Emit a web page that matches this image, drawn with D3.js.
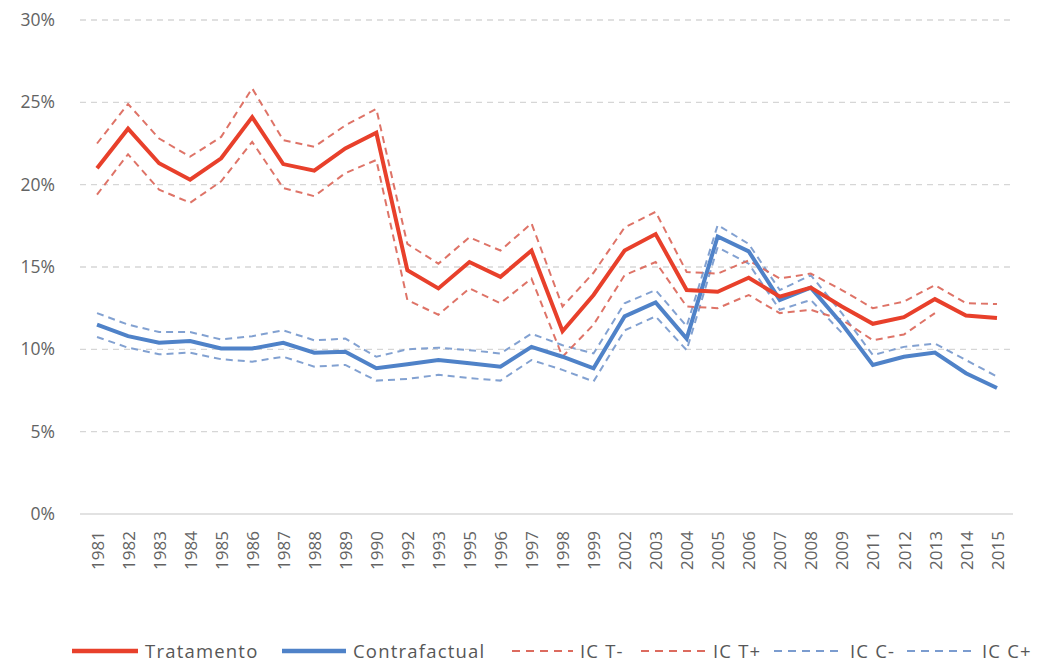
<!DOCTYPE html>
<html>
<head>
<meta charset="utf-8">
<script src="https://cdn.jsdelivr.net/npm/d3@7"></script>
<style>
  html, body { margin: 0; padding: 0; background: #fff; }
  svg { display: block; font-family: "Open Sans", "Noto Sans", sans-serif; }
</style>
</head>
<body>
<svg id="chart" width="1040" height="663"></svg>
<script>
// Years shown on the category axis
const years = ["1981","1982","1983","1984","1985","1986","1987","1988","1989","1990",
  "1992","1993","1995","1996","1997","1998","1999","2002","2003","2004",
  "2005","2006","2007","2008","2009","2011","2012","2013","2014","2015"];

// Treatment series and its confidence band (percent)
const tratamento = [21.0,23.4,21.3,20.3,21.6,24.1,21.25,20.85,22.2,23.15,
  14.8,13.7,15.3,14.4,16.0,11.1,13.3,16.0,17.0,13.6,
  13.5,14.35,13.2,13.75,12.6,11.55,11.95,13.05,12.05,11.9];
const icTMinus = [19.4,21.85,19.7,18.9,20.2,22.6,19.8,19.3,20.7,21.5,
  13.0,12.1,13.7,12.8,14.3,9.55,11.5,14.5,15.3,12.6,
  12.5,13.3,12.2,12.4,11.8,10.55,10.9,12.2,null,null];
const icTPlus = [22.5,24.9,22.8,21.7,22.9,25.85,22.7,22.3,23.6,24.6,
  16.4,15.2,16.8,16.0,17.65,12.6,14.65,17.4,18.35,14.7,
  14.6,15.4,14.3,14.6,13.6,12.5,12.9,13.9,12.8,12.75];

// Counterfactual series and its confidence band (percent)
const contrafactual = [11.5,10.8,10.4,10.5,10.05,10.05,10.4,9.8,9.85,8.85,
  9.1,9.35,9.15,8.95,10.15,9.55,8.85,12.0,12.85,10.65,
  16.85,15.95,13.0,13.75,11.55,9.05,9.55,9.8,8.55,7.65];
const icCMinus = [10.75,10.1,9.7,9.8,9.4,9.25,9.55,8.95,9.05,8.1,
  8.2,8.45,8.25,8.1,9.35,8.75,8.05,11.15,12.0,9.95,
  16.2,15.2,12.4,13.0,11.0,null,null,null,null,null];
const icCPlus = [12.2,11.5,11.05,11.05,10.6,10.8,11.15,10.55,10.65,9.55,
  10.0,10.1,9.95,9.75,10.95,10.25,9.75,12.8,13.6,11.4,
  17.55,16.4,13.6,14.5,12.2,9.65,10.15,10.35,9.35,8.35];

const yTicks = [0, 5, 10, 15, 20, 25, 30];

const RED = "#e8402b", BLUE = "#4f82c8";
const RED_DASH = "#dc6b5f", BLUE_DASH = "#7b9ccf";
const LABEL = "#636363";

const series = [
  { name: "IC C-", values: icCMinus, color: BLUE_DASH, width: 2, dash: "7,5" },
  { name: "IC C+", values: icCPlus, color: BLUE_DASH, width: 2, dash: "7,5" },
  { name: "IC T-", values: icTMinus, color: RED_DASH, width: 2, dash: "7,5" },
  { name: "IC T+", values: icTPlus, color: RED_DASH, width: 2, dash: "7,5" },
  { name: "Contrafactual", values: contrafactual, color: BLUE, width: 4, dash: null },
  { name: "Tratamento", values: tratamento, color: RED, width: 4, dash: null }
];

const svg = d3.select("#chart");
const margin = { left: 81.5, right: 1012.5, top: 20, bottom: 514 };

const x = d3.scalePoint().domain(years).range([margin.left, margin.right]).padding(0.5);
const y = d3.scaleLinear().domain([0, 30]).range([margin.bottom, margin.top]);

// Horizontal dashed gridlines
svg.append("g")
  .selectAll("line")
  .data(yTicks.filter(t => t > 0))
  .join("line")
  .attr("x1", 80).attr("x2", 1013)
  .attr("y1", d => y(d)).attr("y2", d => y(d))
  .attr("stroke", "#d6d6d6").attr("stroke-width", 1.3)
  .attr("stroke-dasharray", "6,5");

// Y axis labels
const yAxis = d3.axisLeft(y).tickValues(yTicks).tickSize(0).tickPadding(0)
  .tickFormat(d => d + "%");
svg.append("g")
  .attr("transform", "translate(55,0)")
  .call(yAxis)
  .call(g => g.select(".domain").remove())
  .call(g => g.selectAll("text")
    .attr("fill", LABEL).attr("font-size", 17.5)
    .attr("font-family", "'Open Sans', sans-serif"));

// X axis baseline and rotated year labels
const xAxis = d3.axisBottom(x).tickSize(0).tickPadding(0);
svg.append("g")
  .attr("transform", `translate(0,${y(0)})`)
  .call(xAxis)
  .call(g => g.select(".domain").attr("stroke", "#d9d9d9").attr("stroke-width", 1.5)
    .attr("d", `M80,0H1013`))
  .call(g => g.selectAll("text")
    .attr("fill", LABEL).attr("font-size", 17)
    .attr("font-family", "'Open Sans', sans-serif")
    .attr("text-anchor", "end")
    .attr("dy", "0.36em")
    .attr("transform", "translate(0,17) rotate(-90)"));

// Series lines
const line = d3.line()
  .defined(d => d.v !== null)
  .x(d => x(d.year))
  .y(d => y(d.v));

svg.append("g")
  .selectAll("path")
  .data(series)
  .join("path")
  .attr("d", s => line(s.values.map((v, i) => ({ year: years[i], v }))))
  .attr("fill", "none")
  .attr("stroke", s => s.color)
  .attr("stroke-width", s => s.width)
  .attr("stroke-dasharray", s => s.dash)
  .attr("stroke-linejoin", "miter")
  .attr("opacity", s => s.dash ? 0.95 : 1);

// Legend
const legendItems = [
  { name: "Tratamento", color: RED, width: 4.5, dash: null, x0: 72, x1: 138 },
  { name: "Contrafactual", color: BLUE, width: 4.5, dash: null, x0: 282, x1: 346 },
  { name: "IC T-", color: RED_DASH, width: 2, dash: "8,6", x0: 512, x1: 573 },
  { name: "IC T+", color: RED_DASH, width: 2, dash: "8,6", x0: 641, x1: 706 },
  { name: "IC C-", color: BLUE_DASH, width: 2, dash: "8,6", x0: 774, x1: 843 },
  { name: "IC C+", color: BLUE_DASH, width: 2, dash: "8,6", x0: 907, x1: 975 }
];
const legend = svg.append("g").attr("transform", "translate(0,651)");
const li = legend.selectAll("g").data(legendItems).join("g");
li.append("line")
  .attr("x1", d => d.x0).attr("x2", d => d.x1)
  .attr("y1", 0).attr("y2", 0)
  .attr("stroke", d => d.color)
  .attr("stroke-width", d => d.width)
  .attr("stroke-dasharray", d => d.dash);
li.append("text")
  .attr("x", d => d.x1 + 7)
  .attr("y", 0)
  .attr("dy", "0.36em")
  .attr("fill", "#575757")
  .attr("font-size", 18.5)
  .attr("letter-spacing", 1.2)
  .attr("font-family", "'Open Sans', sans-serif")
  .text(d => d.name);
</script>
</body>
</html>
